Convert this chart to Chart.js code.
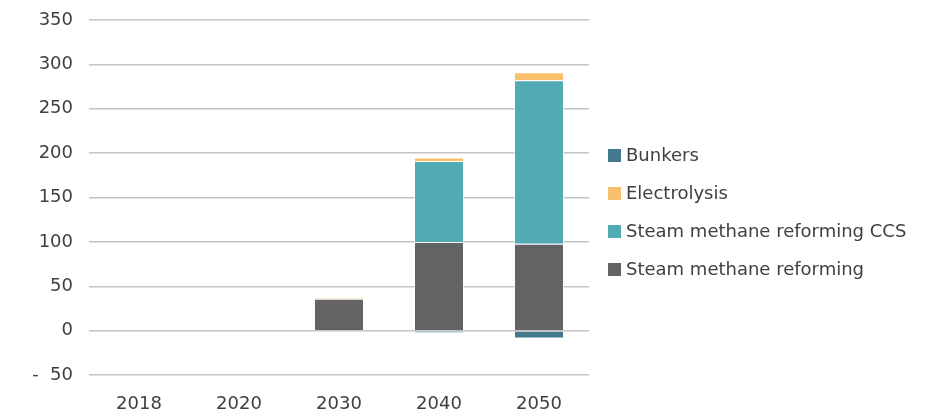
<!DOCTYPE html>
<html>
<head>
<meta charset="utf-8">
<script src="https://cdn.jsdelivr.net/npm/chart.js@4/dist/chart.umd.min.js"></script>
<style>
  html, body { margin: 0; padding: 0; background: #fff; }
  #wrap { width: 938px; height: 414px; position: relative; }
  #legend { position: absolute; left: 608px; top: 143px; margin: 0; padding: 0; list-style: none;
            font-family: "DejaVu Sans", sans-serif; font-size: 18px; color: #404040; }
  #legend li { height: 38px; line-height: 24px; white-space: nowrap; }
  #legend span { display: inline-block; width: 13px; height: 13px; margin-right: 5px; vertical-align: -1px; }
</style>
</head>
<body>
<div id="wrap"><canvas id="h2Chart"></canvas><ul id="legend"></ul></div>
<script>
const years = ['2018', '2020', '2030', '2040', '2050'];
const smr = [0, 0, 36, 100, 98];
const smrCcs = [0, 0, 0, 91, 184];
const electrolysis = [0, 0, 1, 4, 9];
const bunkers = [0, 0, 0, -3, -9];
const yTicks = [-50, 0, 50, 100, 150, 200, 250, 300, 350];

const textColor = '#404040';
const fontFamily = '"DejaVu Sans", sans-serif';

const ctx = document.getElementById('h2Chart').getContext('2d');

const chart = new Chart(ctx, {
    type: 'bar',
    data: {
        labels: years,
        datasets: [
            { label: 'Steam methane reforming', data: smr, backgroundColor: '#636365' },
            { label: 'Steam methane reforming CCS', data: smrCcs, backgroundColor: '#52aab5' },
            { label: 'Electrolysis', data: electrolysis, backgroundColor: '#f8c06a' },
            { label: 'Bunkers', data: bunkers, backgroundColor: '#44788f' }
        ]
    },
    options: {
        responsive: true,
        maintainAspectRatio: false,
        animation: false,
        layout: { padding: { left: 9, right: 349, top: 0, bottom: 0 } },
        datasets: {
            bar: {
                barPercentage: 0.5,
                categoryPercentage: 1,
                borderColor: 'rgba(255,255,255,0.6)',
                borderWidth: 1
            }
        },
        plugins: {
            tooltip: { enabled: false },
            legend: { display: false }
        },
        scales: {
            x: {
                stacked: true,
                grid: { display: false, drawTicks: false },
                border: { display: false },
                afterFit: axis => { axis.height = 39; },
                ticks: {
                    color: textColor,
                    font: { family: fontFamily, size: 18 },
                    padding: 19
                }
            },
            y: {
                stacked: true,
                min: yTicks[0],
                max: yTicks[yTicks.length - 1],
                afterBuildTicks: axis => {
                    axis.ticks = yTicks.map(v => ({ value: v }));
                },
                afterFit: axis => {
                    axis.width = 80;
                    axis.paddingTop = 20;
                    axis.paddingBottom = 0;
                },
                grid: { color: '#c4c4c4', lineWidth: 1.5, drawTicks: false },
                border: { display: false },
                ticks: {
                    color: textColor,
                    font: { family: fontFamily, size: 18 },
                    padding: 16,
                    callback: v => v < 0 ? '-  ' + Math.abs(v) : v
                }
            }
        }
    }
});

// legend in reverse stack order, like the original
const legendEl = document.getElementById('legend');
chart.data.datasets.slice().reverse().forEach(ds => {
    const li = document.createElement('li');
    const box = document.createElement('span');
    box.style.background = ds.backgroundColor;
    li.appendChild(box);
    li.appendChild(document.createTextNode(ds.label));
    legendEl.appendChild(li);
});
</script>
</body>
</html>
